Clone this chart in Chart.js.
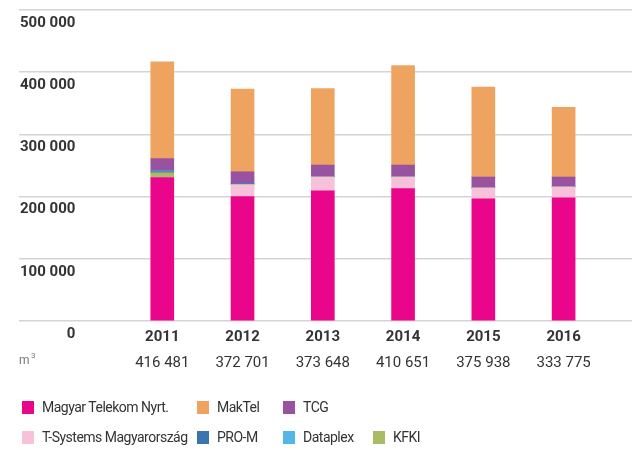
<!DOCTYPE html>
<html>
<head>
<meta charset="utf-8">
<script src="https://cdn.jsdelivr.net/npm/chart.js@4"></script>
<style>
  body { margin: 0; background: #fff; }
  #wrap { position: relative; width: 637px; height: 450px; }
  #legend {
    position: absolute; left: 22px; top: 392px;
    display: grid; grid-template-columns: 175px 86px 90px auto;
    grid-auto-rows: 30px;
    font-family: Roboto, sans-serif; font-size: 14px; color: #333;
    letter-spacing: -0.5px;
  }
  .item { display: flex; align-items: center; white-space: nowrap; }
  .box { width: 12px; height: 13px; margin-right: 8px; }
</style>
</head>
<body>
<div id="wrap">
  <canvas id="chart" width="637" height="450"></canvas>
  <div id="legend"></div>
</div>
<script>
// data (m3)
const years = [2011, 2012, 2013, 2014, 2015, 2016];
const totals = [416481, 372701, 373648, 410651, 375938, 333775];

const magyarTelekom = [230400, 200000, 209100, 212800, 196300, 197900];
const tSystems     = [0, 19200, 22400, 18700, 17600, 17600];
const kfki         = [8000, 0, 0, 0, 0, 0];
const proM         = [1500, 1500, 0, 0, 0, 0];
const dataplex     = [1500, 0, 0, 0, 0, 0];
const tcg          = [19700, 19200, 19200, 19200, 17600, 16000];
const makTel       = [155381, 132800, 122948, 159951, 144438, 112000];

const yTicks = [0, 100000, 200000, 300000, 400000, 500000];

// stacking order bottom -> top
const series = [
    { label: 'Magyar Telekom Nyrt.', data: magyarTelekom, color: '#ea068b' },
    { label: 'T-Systems Magyarország', data: tSystems, color: '#f6c1d9' },
    { label: 'KFKI', data: kfki, color: '#a9bb64' },
    { label: 'PRO-M', data: proM, color: '#3a75ad' },
    { label: 'Dataplex', data: dataplex, color: '#50b7e6' },
    { label: 'TCG', data: tcg, color: '#98529f' },
    { label: 'MakTel', data: makTel, color: '#eea460' }
];
// legend order, row by row (null = empty cell)
const legendOrder = ['Magyar Telekom Nyrt.', 'MakTel', 'TCG', null,
                     'T-Systems Magyarország', 'PRO-M', 'Dataplex', 'KFKI'];

function fmt(v) {
    return String(v).replace(/\B(?=(\d{3})+(?!\d))/g, ' ');
}

// years + totals under the bars
const bottomLabels = {
    id: 'bottomLabels',
    afterDraw(chart) {
        const ctx = chart.ctx;
        const x = chart.scales.x;
        const b = chart.chartArea.bottom;
        ctx.save();
        ctx.textAlign = 'center';
        ctx.textBaseline = 'middle';
        ctx.fillStyle = '#333';
        years.forEach((yr, i) => {
            const px = x.getPixelForValue(yr);
            ctx.font = 'bold 15px Roboto';
            ctx.fillText(String(yr), px, b + 16);
            ctx.font = '15px Roboto';
            ctx.fillText(fmt(totals[i]), px, b + 42);
        });
        ctx.textAlign = 'left';
        ctx.fillStyle = '#777';
        ctx.font = '12px Roboto';
        ctx.fillText('m', chart.chartArea.left, b + 40);
        ctx.font = '8px Roboto';
        ctx.fillText('3', chart.chartArea.left + 12, b + 35);
        ctx.restore();
    }
};

const chart = new Chart(document.getElementById('chart'), {
    type: 'bar',
    data: {
        datasets: series.map(s => ({
            label: s.label,
            data: years.map((yr, i) => ({ x: yr, y: s.data[i] })),
            backgroundColor: s.color,
            barThickness: 23,
            borderWidth: 0
        }))
    },
    options: {
        responsive: false,
        animation: false,
        layout: { padding: { left: 17, right: 5, top: 8, bottom: 129 } },
        plugins: { legend: { display: false }, tooltip: { enabled: false } },
        scales: {
            x: {
                type: 'linear',
                display: false,
                offset: false,
                stacked: true,
                min: 2009.215,
                max: 2016.852
            },
            y: {
                stacked: true,
                min: 0,
                max: 500000,
                afterBuildTicks: axis => { axis.ticks = yTicks.map(v => ({ value: v })); },
                grid: { color: '#d4d4d4', lineWidth: 1.5, drawTicks: false },
                border: { display: false },
                ticks: {
                    mirror: true,
                    crossAlign: 'far',
                    padding: 1,
                    labelOffset: 13,
                    color: '#333',
                    font: { family: 'Roboto', size: 15, weight: 'bold' },
                    callback: v => fmt(v)
                }
            }
        }
    },
    plugins: [bottomLabels]
});

// html legend in the reference's grid
const legend = document.getElementById('legend');
legendOrder.forEach(name => {
    const cell = document.createElement('div');
    cell.className = 'item';
    if (name) {
        const s = series.find(d => d.label === name);
        cell.innerHTML = `<span class="box" style="background:${s.color}"></span><span>${name}</span>`;
    }
    legend.appendChild(cell);
});
</script>
</body>
</html>
